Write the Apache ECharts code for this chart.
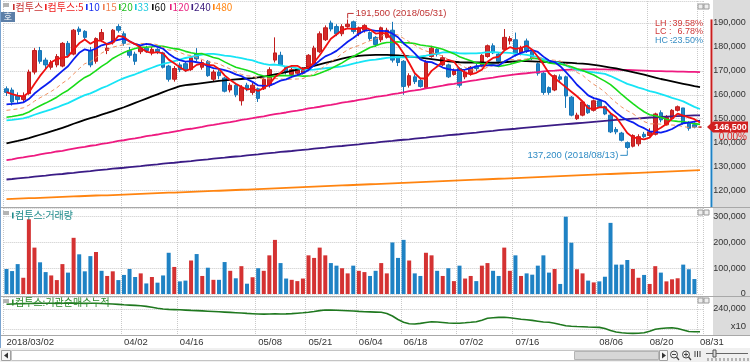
<!DOCTYPE html>
<html><head><meta charset="utf-8">
<script src="https://cdn.jsdelivr.net/npm/echarts@6.0.0/dist/echarts.min.js"></script>
<style>html,body{margin:0;padding:0;background:#fff;}#chart{width:750px;height:362px;}</style>
</head><body><div id="chart"></div>
<script>
// ---------------- DATA (prices in thousands of won, volume in thousands of shares) ----------------
const dates = ['03/02','03/05','03/06','03/07','03/08','03/09','03/12','03/13','03/14','03/15','03/16','03/19','03/20','03/21','03/22','03/23','03/26','03/27','03/28','03/29','03/30',
'04/02','04/03','04/04','04/05','04/06','04/09','04/10','04/11','04/12','04/13','04/16','04/17','04/18','04/19','04/20','04/23','04/24','04/25','04/26','04/27','04/30',
'05/02','05/03','05/04','05/08','05/09','05/10','05/11','05/14','05/15','05/16','05/17','05/18','05/21','05/23','05/24','05/25','05/28','05/29','05/30','05/31',
'06/01','06/04','06/05','06/07','06/08','06/11','06/12','06/14','06/15','06/18','06/19','06/20','06/21','06/22','06/25','06/26','06/27','06/28','06/29',
'07/02','07/03','07/04','07/05','07/06','07/09','07/10','07/11','07/12','07/13','07/16','07/17','07/18','07/19','07/20','07/23','07/24','07/25','07/26','07/27','07/30','07/31',
'08/01','08/02','08/03','08/06','08/07','08/08','08/09','08/10','08/13','08/14','08/16','08/17','08/20','08/21','08/22','08/23','08/24','08/27','08/28','08/29','08/30','08/31'];
const year = '2018';
const tickDates  = ['03/02','04/02','04/16','05/08','05/21','06/04','06/18','07/02','07/16','08/06','08/20','08/31'];
const tickLabels = ['2018/03/02','04/02','04/16','05/08','05/21','06/04','06/18','07/02','07/16','08/06','08/20','08/31'];

const open = [162.5,162.0,159.5,158.0,160.5,169.5,178.5,174.5,171.5,172.5, 172.0,181.5,177.0,187.5,186.5,178.5,174.0,183.0,178.5,182.0, 188.5,185.5,178.5,177.0,178.0,179.5,177.5,179.0,177.5,172.0, 166.5,172.5,173.0,170.5,177.0,171.5,174.0,166.5,169.5,167.0, 162.0,164.0,157.5,164.0,161.0,162.5,162.5,164.0,174.5,176.5, 171.5,168.5,169.0,169.0,171.0,173.0,178.0,183.0,190.0,188.5, 185.5,188.5,190.5,185.5,187.0,186.0,184.0,183.0,184.0,187.0, 175.5,174.0,164.0,167.5,166.0,163.0,176.0,179.0,172.5,172.5, 168.5,171.0,167.5,169.0,172.0,172.0,176.0,180.5,177.0,179.0, 182.5,183.0,177.5,182.5,178.0,173.0,169.0,163.0,162.0,167.5, 167.5,159.0,150.0,151.5,155.5,153.5,157.5,155.0,151.5,145.5, 144.0,140.0,138.5,139.5,143.5,143.0,143.5,152.5,147.5,150.0, 153.5,154.5,148.5,147.5,146.5];
const high = [163.5,163.0,161.0,161.0,170.5,179.5,180.0,175.5,174.5,177.0, 182.0,182.5,187.5,188.5,187.0,180.0,184.0,187.5,181.0,187.5, 189.5,186.5,180.0,178.0,180.5,180.5,180.0,179.5,178.0,172.5, 172.0,173.5,174.0,176.0,179.5,174.5,174.5,170.5,170.5,167.5, 165.0,164.5,164.0,165.0,165.0,163.0,167.0,171.5,184.0,178.0, 172.0,171.5,171.0,171.5,177.0,180.5,186.5,189.0,191.0,189.5, 189.5,191.5,191.0,188.5,189.5,186.5,184.5,188.5,188.0,190.5, 176.5,174.5,169.0,168.5,167.0,174.5,180.5,179.5,176.5,173.0, 171.0,171.5,170.5,172.0,173.0,177.0,181.0,181.5,177.5,187.5, 184.5,186.0,180.5,183.5,179.0,173.5,169.5,163.5,168.5,168.5, 168.0,159.5,152.5,157.5,156.0,158.0,158.0,155.5,152.0,146.5, 144.5,140.5,143.5,143.5,144.5,146.0,152.5,153.5,151.5,154.0, 155.5,154.5,149.0,148.5,146.5];
const low = [159.5,155.5,156.5,157.0,160.0,168.5,173.0,171.0,170.5,171.5, 171.5,175.5,176.5,185.0,183.0,171.5,173.0,182.0,177.0,181.0, 186.0,180.5,175.5,172.5,177.0,177.5,176.5,177.0,171.0,165.5, 165.5,169.5,169.5,170.0,174.0,170.5,167.5,165.5,166.5,161.0, 161.0,159.0,155.5,161.5,160.0,157.0,162.0,163.0,173.5,172.0, 168.5,168.0,168.0,168.5,170.5,172.5,177.5,182.5,186.5,184.5, 184.5,188.0,185.5,184.5,186.0,182.5,180.0,182.0,183.5,173.5, 172.0,160.0,163.0,164.5,163.0,162.5,175.5,176.0,172.0,167.0, 168.0,163.0,166.5,168.0,170.0,171.5,175.5,177.0,173.0,178.5, 181.0,176.0,176.5,177.5,174.5,168.0,160.0,160.0,161.5,165.5, 154.5,151.0,149.5,151.0,152.0,153.0,154.5,151.5,144.0,143.5, 140.5,137.2,138.0,138.5,142.0,142.5,143.0,148.5,147.0,149.5, 153.0,147.5,145.0,146.0,146.5];
const close = [161.0,157.0,158.0,159.5,169.5,178.5,174.0,172.5,173.5,176.0, 181.5,176.5,187.0,186.5,184.0,172.5,183.5,186.0,179.5,187.0, 187.0,181.5,176.5,174.0,179.5,178.5,179.0,178.0,171.5,166.5, 171.0,170.5,170.5,175.5,175.0,173.5,168.0,169.5,168.0,161.5, 164.0,160.0,163.0,162.5,164.0,158.5,166.5,170.5,177.5,172.5, 169.5,170.5,170.5,170.5,176.5,179.5,185.5,188.0,187.5,185.5, 188.5,189.5,186.5,188.0,189.0,183.5,181.0,188.0,187.0,174.5, 173.5,163.5,168.0,165.5,163.5,173.5,179.5,177.0,175.5,167.5, 170.0,164.0,169.5,171.5,171.0,176.5,180.5,177.5,174.0,184.0, 183.5,177.0,179.5,178.5,175.5,169.0,161.0,161.0,168.0,166.5, 159.5,151.5,151.5,157.0,152.5,157.5,155.0,152.0,144.5,144.5, 141.0,138.0,143.0,142.5,142.5,144.5,152.0,149.5,150.5,153.5, 155.0,148.0,146.0,146.5,146.5];

const volume = [97,89,116,63,290,180,123,85,72,54, 116,83,218,154,88,147,163,90,70,88, 54,74,97,66,80,41,66,44,72,160, 105,49,52,130,155,70,102,55,55,124, 90,61,108,40,
 65,100,90,150,210, 120,60,55,50,60, 150,140,180,150,120, 110,100,80,110,90, 85,70,90,120,80, 200,140,210,130,80, 70,160,150,90,70, 100,50,110,60,70, 50,110,120,90,70, 180,90,150,70,80, 75,110,150,
 83,97,39,300,199,96,80,52,45,49, 67,276,114,114,132,97,63,74,39,108, 83,49,57,61,114,96,58,0];
const volUp = [0,0,0,1,1,1,0,0,1,1, 1,0,1,0,0,0,1,0,1,1, 0,0,0,0,1,0,1,0,0,0, 1,0,0,1,0,1,0,1,0,0, 1,0,1,0,
 1,0,1,1,1, 0,0,1,1,1, 1,1,1,1,0, 0,1,1,0,1, 1,0,0,1,1, 0,0,0,1,0, 0,1,1,0,1, 0,1,0,1,1, 0,1,1,0,0, 1,1,0,1,0, 0,0,0,
 0,1,0,0,0,1,1,0,1,0, 0,0,0,0,0,1,1,0,1,1, 0,1,1,1,0,0,0,0];

// institutional net-buy cumulative (axis units, thousands; axis shows x10)
const inst = [244.7,245.0,245.2,245.4,245.5,245.6,245.7,245.7, 245.8,245.6,245.7,245.8,245.9,245.7,245.6,245.7,245.7, 245.5,245.3,245.0, 244.6,244.2,243.9,243.6,243.3, 242.6,241.7,240.8,240.0, 239.6,239.4,239.2,238.9,238.6,238.4, 238.1,237.8,237.5,237.2,236.9,236.6,236.3, 236.0,235.6,235.3,235.0, 234.9,235.0,235.1,235.0,235.1, 235.4,235.8,236.2,236.7, 237.5,238.4,239.0, 238.9,238.7,238.5,238.3, 238.0,237.6,237.3,237.1,236.9,236.7, 235.5,233.0,229.5,226.8,225.3, 225.0,225.6,226.5,227.3, 227.0,226.5,226.0,225.7, 225.8,226.2,226.7,227.3,228.8,230.7, 231.2,231.6,231.7,231.2,230.5,229.8, 229.3,228.6,227.8,227.0,226.7, 225.8,224.5,223.3,222.8, 222.5,222.3,222.0,221.8,221.6, 220.5,218.5,217.0,216.3,215.7, 215.6,215.8,216.3,217.8, 219.7,220.5,221.0,221.3, 220.5,219.0,217.5,217.3,217.3];

// long moving averages
const ma60 = [139.7,140.2,140.7,141.3,141.9,142.6,143.3,144.0,144.7,145.4, 146.2,147.0,147.9,148.7,149.5,150.2,150.9,151.7,152.4,153.2, 154.0,154.8,155.7,156.6,157.5,158.4,159.3,160.2,161.1,162.0, 162.8,163.6,164.0,164.3,164.6,164.9,165.2,165.5,165.8,166.0, 166.2,166.4,166.6,166.8,167.0,167.3,167.6,168.0,168.5,169.0, 169.5,170.0,170.5,171.0,171.5,172.1,172.7,173.3,173.9,174.5, 175.1,175.6,176.0,176.3,176.5,176.6,176.7,176.7,176.7,176.6, 176.5,176.3,176.0,175.8,175.5,175.2,174.9,174.6,174.3,174.0, 173.8,173.6,173.5,173.5,173.5,173.5,173.4,173.4,173.4,173.6, 173.8,174.0,174.1,174.1,174.0,173.9,173.8,173.7,173.6,173.5, 173.4,173.3,173.1,173.0,172.8,172.5,172.2,171.8,171.4,171.0, 170.5,170.0,169.5,169.0,168.4,167.8,167.2,166.6,166.1,165.6, 165.1,164.6,164.1,163.6,163.2];
const ma120 = [132.7,133.0,133.5,133.8,134.3,134.6,135.1,135.5,135.8,136.3, 136.6,137.1,137.5,137.9,138.2,138.7,139.0,139.5,139.8,140.2, 140.7,141.0,141.5,141.8,142.2,142.7,143.0,143.4,143.9,144.2, 144.6,145.0,145.5,145.8,146.2,146.6,147.1,147.4,147.8,148.3, 148.6,149.0,149.5,149.8,150.2,150.7,151.0,151.5,151.9,152.2, 152.6,153.1,153.4,153.8,154.3,154.6,155.0,155.5,155.8,156.2, 156.7,157.0,157.4,157.9,158.2,158.6,159.1,159.4,159.8,160.3, 160.6,161.0,161.5,161.8,162.2,162.7,163.0,163.4,163.8,164.3, 164.6,165.0,165.4,165.8,166.1,166.5,166.9,167.2,167.6,167.9, 168.2,168.5,168.8,169.0,169.3,169.5,169.8,170.0,170.1,170.3, 170.4,170.5,170.5,170.6,170.6,170.7,170.6,170.6,170.5,170.5, 170.4,170.4,170.3,170.2,170.1,170.0,169.9,169.9,169.8,169.8, 169.7,169.7,169.6,169.6,169.5];
const ma240 = [124.6,124.8,125.1,125.3,125.5,125.8,126.0,126.2,126.5,126.7, 126.9,127.2,127.4,127.7,127.9,128.1,128.4,128.6,128.8,129.1, 129.3,129.5,129.8,130.0,130.2,130.5,130.7,130.9,131.2,131.4, 131.6,131.9,132.1,132.3,132.6,132.8,133.0,133.3,133.5,133.7, 134.0,134.2,134.4,134.7,134.9,135.1,135.4,135.6,135.8,136.1, 136.3,136.5,136.8,137.0,137.2,137.5,137.7,137.9,138.2,138.4, 138.6,138.9,139.1,139.3,139.6,139.8,140.0,140.3,140.5,140.7, 141.0,141.2,141.4,141.7,141.9,142.1,142.4,142.6,142.8,143.1, 143.3,143.5,143.8,144.0,144.2,144.5,144.7,144.9,145.2,145.4, 145.6,145.8,146.1,146.3,146.5,146.7,146.9,147.1,147.3,147.5, 147.7,147.9,148.1,148.3,148.5,148.7,148.9,149.1,149.3,149.5, 149.6,149.8,150.0,150.1,150.3,150.5,150.6,150.8,150.9,151.0, 151.1,151.2,151.3,151.4,151.4];
const ma480 = [116.4,116.5,116.6,116.7,116.8,116.8,116.9,117.0,117.1,117.2, 117.3,117.4,117.5,117.6,117.7,117.8,117.9,118.0,118.0,118.1, 118.2,118.3,118.4,118.5,118.6,118.7,118.8,118.9,119.0,119.1, 119.1,119.2,119.3,119.4,119.5,119.6,119.7,119.8,119.9,120.0, 120.1,120.2,120.3,120.4,120.5,120.6,120.7,120.8,120.9,121.0, 121.1,121.2,121.3,121.4,121.5,121.6,121.7,121.8,121.9,122.0, 122.1,122.2,122.3,122.4,122.5,122.6,122.7,122.8,122.9,123.0, 123.1,123.2,123.3,123.4,123.5,123.6,123.7,123.8,123.9,124.0, 124.1,124.2,124.3,124.4,124.5,124.6,124.7,124.8,124.9,125.0, 125.1,125.2,125.3,125.4,125.5,125.6,125.7,125.8,125.9,126.0, 126.1,126.2,126.3,126.4,126.5,126.6,126.7,126.8,126.9,127.0, 127.1,127.2,127.3,127.4,127.5,127.6,127.7,127.8,127.9,128.0, 128.1,128.2,128.3,128.4,128.5];

// short moving-average periods and their first visible values
const shortPeriods = [5, 10, 15, 20, 33];
const shortStart = [161.1, 156.0, 153.5, 150.6, 149.3];

const legendLabels = ['컴투스','컴투스:5','10','15','20','33','60','120','240','480'];
const volTitle = '컴투스:거래량';
const instTitle = '컴투스:기관순매수누적';

// ---------------- helpers ----------------
function movingAverage(src, n, start) {
  const pre = (n * start - src[0]) / (n - 1); // level assumed for days before the window
  return src.map((_, i) => {
    let s = 0;
    for (let k = i - n + 1; k <= i; k++) s += k >= 0 ? src[k] : pre;
    return +(s / n).toFixed(2);
  });
}
const fmt = v => Math.round(v).toLocaleString('en-US');
const isMult = (v, m) => Math.abs(v / m - Math.round(v / m)) < 1e-6;
const tickSet = new Set(tickDates);
const labelMap = {}; tickDates.forEach((d, i) => labelMap[d] = tickLabels[i]);

const FN = '"Liberation Sans",Arial,sans-serif';
const FK = '"Noto Sans CJK KR","Noto Sans",sans-serif';

const shortMA = shortPeriods.map((p, k) => movingAverage(close, p, shortStart[k]));
const ohlc = dates.map((d, i) => [open[i], close[i], low[i], high[i]]);

const lineDefs = [
  {name:'MA480', data: ma480, color:'#ff8410', w:1.8},
  {name:'MA240', data: ma240, color:'#3b1c86', w:1.8},
  {name:'MA120', data: ma120, color:'#ee1a80', w:1.8},
  {name:'MA60',  data: ma60,  color:'#000000', w:1.8},
  {name:'MA33',  data: shortMA[4], color:'#17e4f5', w:1.8},
  {name:'MA20',  data: shortMA[3], color:'#18dc18', w:1.6},
  {name:'MA15',  data: shortMA[2], color:'#f09060', w:1, type:[4,3]},
  {name:'MA10',  data: shortMA[1], color:'#0a1ef0', w:1.8},
  {name:'MA5',   data: shortMA[0], color:'#f01010', w:1.8}
];

const splitDotted = {show:true, lineStyle:{color:'#c9c9c9', type:'dotted', width:1}};
const xAxes = [0,1,2].map(g => ({
  type:'category', gridIndex:g, data:dates, boundaryGap:true,
  axisLine:{show: g === 2, lineStyle:{color:'#9c9c9c'}},
  axisTick:{show:false},
  axisLabel: g === 2 ? {show:true, interval:(i, v) => tickSet.has(v), formatter: v => labelMap[v] || '',
      align:'left', margin:2.5, color:'#333', fontSize:9.5, fontFamily:FN} : {show:false},
  splitLine:{show:true, interval:(i, v) => tickSet.has(v), lineStyle:{color:'#c9c9c9', type:'dotted', width:1}}
}));

const axisLab = (fmtFn) => ({margin:43, align:'right', color:'#333', fontSize:9, fontFamily:FN, formatter: fmtFn});
const option = {
  animation:false,
  backgroundColor:'#ffffff',
  grid:[
    {left:3.7, width:699.1, top:1, height:206},
    {left:3.7, width:699.1, top:208, height:86},
    {left:3.7, width:699.1, top:297, height:38}
  ],
  xAxis: xAxes,
  yAxis:[
    {type:'value', gridIndex:0, position:'right', min:113.1, max:199.2, splitNumber:8,
     axisLine:{show:false}, axisTick:{show:false}, splitLine:splitDotted,
     axisLabel: axisLab(v => isMult(v, 10) ? fmt(v * 1000) : '')},
    {type:'value', gridIndex:1, position:'right', min:0, max:333.7, splitNumber:3,
     axisLine:{show:false}, axisTick:{show:false}, splitLine:splitDotted,
     axisLabel: axisLab(v => isMult(v, 100) ? fmt(v * 1000) : '')},
    {type:'value', gridIndex:2, position:'right', min:214, max:252, splitNumber:2,
     axisLine:{show:false}, axisTick:{show:false}, splitLine:splitDotted,
     axisLabel: axisLab(v => Math.abs(v - 240) < 1e-6 ? fmt(v * 1000) : '')}
  ],
  series:[
    {name:'컴투스', type:'candlestick', xAxisIndex:0, yAxisIndex:0, data:ohlc, barWidth:4, z:2, silent:true,
     itemStyle:{color:'#d42a2a', color0:'#1f84c6', borderColor:'#c01c1c', borderColor0:'#1675b6', borderWidth:1}},
    ...lineDefs.map(d => ({name:d.name, type:'line', xAxisIndex:0, yAxisIndex:0, data:d.data, symbol:'none', silent:true, z:3,
      lineStyle:{color:d.color, width:d.w, type:d.type || 'solid'}})),
    {name:'거래량', type:'bar', xAxisIndex:1, yAxisIndex:1, barWidth:4, silent:true,
     data: volume.map((v, i) => ({value:v, itemStyle:{color: volUp[i] ? '#d43232' : '#1f82c4'}}))},
    {name:'기관', type:'line', xAxisIndex:2, yAxisIndex:2, data:inst, symbol:'none', silent:true,
     lineStyle:{color:'#1f781f', width:1.6}}
  ]
};

const chart = echarts.init(document.getElementById('chart'));
chart.setOption(option);

// ---------------- overlays ----------------
const px = (i, v) => chart.convertToPixel({gridIndex:0}, [i, v]);
let hiIdx = 0, loIdx = 0;
high.forEach((v, i) => { if (v > high[hiIdx]) hiIdx = i; });
low.forEach((v, i) => { if (v < low[loIdx]) loIdx = i; });
const hiVal = high[hiIdx], loVal = low[loIdx];
const last = close[close.length - 1], prev = close[close.length - 2];
const lh = (hiVal - loVal) / loVal * 100, lc = (last - loVal) / loVal * 100, hc = (last - hiVal) / hiVal * 100;
const chg = (last - prev) / prev * 100;

const G = [];
// right axis panel
G.push({type:'rect', shape:{x:713, y:0, width:37, height:335}, style:{fill:'#dcdcdc'}, z:-10, silent:true});
// panel separators / borders
[[0,207.5,750,207.5],[0,296.5,750,296.5],[0,335.5,750,335.5]].forEach(l => G.push({type:'line', shape:{x1:l[0],y1:l[1],x2:l[2],y2:l[3]}, style:{stroke:'#a8a8a8', lineWidth:1}, z:50, silent:true}));
G.push({type:'line', shape:{x1:0.5,y1:0,x2:0.5,y2:348}, style:{stroke:'#7aa3cf', lineWidth:1}, z:50, silent:true});
// price bar on axis
const pHi = px(hiIdx, hiVal), pLast = px(0, last);
G.push({type:'rect', shape:{x:710.5, y:pHi[1], width:2, height:pLast[1] - pHi[1] - 3}, style:{fill:'#c81e1e'}, z:60, silent:true});
G.push({type:'rect', shape:{x:710.5, y:pLast[1] + 3, width:2, height:207 - pLast[1] - 3}, style:{fill:'#1f82c4'}, z:60, silent:true});
// current price box
G.push({type:'polygon', shape:{points:[[707, pLast[1]], [713, pLast[1] - 5.5], [713, pLast[1] + 5.5]]}, style:{fill:'#d02020'}, z:61, silent:true});
G.push({type:'rect', shape:{x:713, y:pLast[1] - 5.5, width:35, height:11}, style:{fill:'#d02020'}, z:61, silent:true});
G.push({type:'text', x:730.5, y:pLast[1], style:{text:fmt(last * 1000), fill:'#fff', font:'bold 9px ' + FN, align:'center', verticalAlign:'middle'}, z:62, silent:true});
G.push({type:'text', x:747, y:pLast[1] + 10.5, style:{text:chg.toFixed(2) + '%', fill:'#e02020', font:'10px ' + FN, align:'right', verticalAlign:'middle'}, z:62, silent:true});
// LH / LC / HC
[['LH :', lh, '#d03a3a', 23.5], ['LC :', lc, '#d03a3a', 32], ['HC :', hc, '#3a8fc4', 40.5]].forEach(r => {
  G.push({type:'text', x:655, y:r[3], style:{text:r[0], fill:r[2], font:'9px ' + FN, verticalAlign:'middle'}, z:62, silent:true});
  G.push({type:'text', x:703, y:r[3], style:{text:r[1].toFixed(2) + '%', fill:r[2], font:'9px ' + FN, align:'right', verticalAlign:'middle'}, z:62, silent:true});
});
// high / low annotations
G.push({type:'polyline', shape:{points:[[pHi[0], pHi[1] - 1], [pHi[0], pHi[1] - 6], [pHi[0] + 6, pHi[1] - 6]]}, style:{stroke:'#c03434', lineWidth:1, fill:null}, z:62, silent:true});
G.push({type:'text', x:pHi[0] + 8, y:pHi[1] - 6, style:{text:fmt(hiVal * 1000) + ' (' + year + '/' + dates[hiIdx] + ')', fill:'#c03434', font:'9.5px ' + FN, verticalAlign:'middle'}, z:62, silent:true});
const pLo = px(loIdx, loVal);
G.push({type:'polyline', shape:{points:[[pLo[0], pLo[1] + 1], [pLo[0], pLo[1] + 6], [pLo[0] - 7, pLo[1] + 6]]}, style:{stroke:'#2e8bc4', lineWidth:1, fill:null}, z:62, silent:true});
G.push({type:'text', x:pLo[0] - 9, y:pLo[1] + 6, style:{text:fmt(loVal * 1000) + ' (' + year + '/' + dates[loIdx] + ')', fill:'#2e8bc4', font:'9.5px ' + FN, align:'right', verticalAlign:'middle'}, z:62, silent:true});
// legend row
const legColors = ['#c83030','#ee2020','#1a30ee','#f08050','#22c022','#18c8dc','#111111','#e8207f','#402080','#ff8410'];
const legX = [13, 45, 86, 103, 119, 135, 152, 170, 191.5, 213];
G.push({type:'rect', shape:{x:3, y:3, width:6, height:4}, style:{fill:'#b4b4b4'}, z:62, silent:true});
legendLabels.forEach((t, i) => {
  G.push({type:'rect', shape:{x:legX[i], y:4, width:1.6, height:6}, style:{fill:legColors[i]}, z:62, silent:true});
  G.push({type:'text', x:legX[i] + 2.6, y:7.3, style:{text:t, fill:legColors[i], font:'10px ' + FK, verticalAlign:'middle'}, z:62, silent:true});
});
// "호" button
G.push({type:'rect', shape:{x:1, y:12, width:14, height:10}, style:{fill:'#5c7fa8'}, z:62, silent:true});
G.push({type:'text', x:8, y:17, style:{text:'호', fill:'#fff', font:'9px ' + FK, align:'center', verticalAlign:'middle'}, z:63, silent:true});
// panel titles
G.push({type:'rect', shape:{x:3, y:211, width:6, height:4}, style:{fill:'#b4b4b4'}, z:62, silent:true});
G.push({type:'rect', shape:{x:12, y:212.5, width:1.6, height:6}, style:{fill:'#1e8a8a'}, z:62, silent:true});
G.push({type:'text', x:15, y:215.5, style:{text:volTitle, fill:'#1e8a8a', font:'10px ' + FK, verticalAlign:'middle'}, z:62, silent:true});
G.push({type:'rect', shape:{x:3, y:299, width:6, height:4}, style:{fill:'#b4b4b4'}, z:62, silent:true});
G.push({type:'rect', shape:{x:12, y:299.5, width:1.6, height:6}, style:{fill:'#2a8a2a'}, z:62, silent:true});
G.push({type:'text', x:15, y:302.5, style:{text:instTitle, fill:'#2a8a2a', font:'10px ' + FK, verticalAlign:'middle'}, z:62, silent:true});
G.push({type:'text', x:746, y:326, style:{text:'x10', fill:'#333', font:'9.5px ' + FN, align:'right', verticalAlign:'middle'}, z:62, silent:true});
// small panel buttons
[4, 210, 298].forEach(y => {
  [698, 704].forEach(x => G.push({type:'rect', shape:{x:x, y:y, width:5, height:5}, style:{fill:'#eeeeee', stroke:'#9a9a9a', lineWidth:1}, z:62, silent:true}));
});
// scroll bar
G.push({type:'rect', shape:{x:0, y:348, width:750, height:14}, style:{fill:'#f0f0f0'}, z:40, silent:true});
G.push({type:'rect', shape:{x:1.5, y:350.5, width:9, height:10}, style:{fill:'#f6f6f6', stroke:'#a0a0a0', lineWidth:1}, z:41, silent:true});
G.push({type:'polygon', shape:{points:[[4, 355.5], [8, 352.5], [8, 358.5]]}, style:{fill:'#333'}, z:42, silent:true});
G.push({type:'rect', shape:{x:11.5, y:350.5, width:647, height:10}, style:{fill:'#ffffff', stroke:'#c4c4c4', lineWidth:1}, z:41, silent:true});
G.push({type:'rect', shape:{x:574.5, y:351.5, width:84, height:8}, style:{fill:'#d6d6d6', stroke:'#b4b4b4', lineWidth:1}, z:42, silent:true});
G.push({type:'rect', shape:{x:659.5, y:350.5, width:8, height:10}, style:{fill:'#f6f6f6', stroke:'#a0a0a0', lineWidth:1}, z:41, silent:true});
G.push({type:'polygon', shape:{points:[[666, 355.5], [662, 352.5], [662, 358.5]]}, style:{fill:'#333'}, z:42, silent:true});
[674, 686].forEach((x, k) => {
  G.push({type:'circle', shape:{cx:x, cy:354.5, r:3.5}, style:{fill:'none', stroke:'#444', lineWidth:1}, z:42, silent:true});
  G.push({type:'line', shape:{x1:x + 2.5, y1:357, x2:x + 5, y2:360}, style:{stroke:'#444', lineWidth:1.2}, z:42, silent:true});
  G.push({type:'line', shape:{x1:x - 2, y1:354.5, x2:x + 2, y2:354.5}, style:{stroke:'#444', lineWidth:1}, z:42, silent:true});
  if (k === 1) G.push({type:'line', shape:{x1:x, y1:352.5, x2:x, y2:356.5}, style:{stroke:'#444', lineWidth:1}, z:42, silent:true});
});
[695, 697.5, 700].forEach(x => G.push({type:'line', shape:{x1:x, y1:351, x2:x, y2:357}, style:{stroke:'#444', lineWidth:1}, z:42, silent:true}));
G.push({type:'line', shape:{x1:706, y1:353.5, x2:748, y2:353.5}, style:{stroke:'#666', lineWidth:1}, z:42, silent:true});
G.push({type:'rect', shape:{x:713, y:350, width:3, height:7}, style:{fill:'#ddd', stroke:'#555', lineWidth:1}, z:43, silent:true});
for (let x = 708; x <= 748; x += 4) G.push({type:'line', shape:{x1:x, y1:358, x2:x, y2:361}, style:{stroke:'#777', lineWidth:1}, z:42, silent:true});

chart.setOption({graphic:{elements:G}});
</script></body></html>
